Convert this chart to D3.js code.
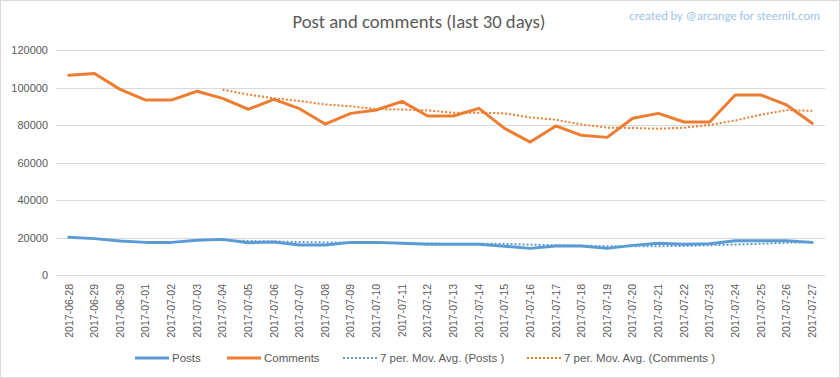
<!DOCTYPE html>
<html><head><meta charset="utf-8">
<script src="https://cdn.jsdelivr.net/npm/d3@7"></script>
<style>body{margin:0;background:#fff}svg{display:block}</style>
</head><body>
<script>
const dates = ["2017-06-28","2017-06-29","2017-06-30","2017-07-01","2017-07-02","2017-07-03","2017-07-04","2017-07-05","2017-07-06","2017-07-07","2017-07-08","2017-07-09","2017-07-10","2017-07-11","2017-07-12","2017-07-13","2017-07-14","2017-07-15","2017-07-16","2017-07-17","2017-07-18","2017-07-19","2017-07-20","2017-07-21","2017-07-22","2017-07-23","2017-07-24","2017-07-25","2017-07-26","2017-07-27"];
const posts = [20100,19400,18100,17400,17400,18500,19000,17200,17600,16000,16000,17400,17400,16900,16400,16400,16400,15300,14200,15500,15500,14200,15800,16900,16400,16700,18300,18300,18300,17400];
const comments = [106500,107500,99000,93300,93300,98000,94200,88400,93700,88700,80500,86200,88000,92600,84800,84800,88900,78200,70900,79500,74500,73400,83600,86200,81600,81600,96000,96000,90700,80900];
const postsMA = [null,null,null,null,null,null,18557,18143,17886,17586,17386,17386,17229,16929,16814,16643,16700,16600,16143,15871,15671,15357,15271,15343,15500,15857,16257,16657,17243,17471];
const commentsMA = [null,null,null,null,null,null,98830,96243,94271,92800,90971,89957,88529,88300,87786,86514,86543,86214,84029,82814,80229,78600,78429,78043,78529,80057,82414,85486,87957,87571];
const yTicks = [0,20000,40000,60000,80000,100000,120000];
const title = "Post and comments (last 30 days)";
const credit = "created by @arcange for steemit.com";
const legendItems = [
  {label:"Posts", color:"#5B9BD5", dash:null},
  {label:"Comments", color:"#ED7D31", dash:null},
  {label:"7 per. Mov. Avg. (Posts )", color:"#5B9BD5", dash:"2,2"},
  {label:"7 per. Mov. Avg. (Comments )", color:"#ED7D31", dash:"2,2"}
];

const W = 840, H = 378;
const svg = d3.select("body").append("svg").attr("width", W).attr("height", H);
svg.append("rect").attr("x",0.5).attr("y",0.5).attr("width",W-1).attr("height",H-1)
  .attr("fill","#fff").attr("stroke","#D9D9D9");

const x = d3.scaleBand().domain(dates).range([56, 825]);
const cx = d => x(d) + x.bandwidth()/2;
const y = d3.scaleLinear().domain([0,120000]).range([275, 50]);

const font = "Carlito, Lato, 'Liberation Sans', sans-serif";

// gridlines
svg.append("g").selectAll("line").data(yTicks).join("line")
  .attr("x1", 56).attr("x2", 825)
  .attr("y1", d => Math.round(y(d))+0.5).attr("y2", d => Math.round(y(d))+0.5)
  .attr("stroke", "#D9D9D9").attr("stroke-width", 1);

// y axis labels
const yAxis = d3.axisLeft(y).tickValues(yTicks).tickSize(0).tickPadding(8).tickFormat(d3.format("d"));
const gy = svg.append("g").attr("transform","translate(56,0)").call(yAxis);
gy.select(".domain").remove();
gy.selectAll("text").attr("fill","#595959").style("font-family","'Liberation Sans', Arial, sans-serif").style("font-size","11px");

// x axis labels
const xAxis = d3.axisBottom(x).tickSize(0).tickPadding(0);
const gx = svg.append("g").attr("transform","translate(0,275)").call(xAxis);
gx.select(".domain").remove();
gx.selectAll("text")
  .attr("transform","rotate(-90)")
  .attr("x", -9).attr("y", 0).attr("dy","0.35em")
  .style("text-anchor","end")
  .attr("fill","#595959").style("font-family","'Liberation Sans', Arial, sans-serif").style("font-size","10.5px");

const line = d3.line().defined(d => d.v != null).x(d => cx(d.k)).y(d => y(d.v));
const mk = arr => dates.map((k,i) => ({k, v: arr[i]}));

svg.append("path").datum(mk(postsMA)).attr("d", line).attr("fill","none")
  .attr("stroke","#5B9BD5").attr("stroke-width",2).attr("stroke-dasharray","2,2");
svg.append("path").datum(mk(commentsMA)).attr("d", line).attr("fill","none")
  .attr("stroke","#ED7D31").attr("stroke-width",2).attr("stroke-dasharray","2,2");
svg.append("path").datum(mk(posts)).attr("d", line).attr("fill","none")
  .attr("stroke","#5B9BD5").attr("stroke-width",3).attr("stroke-linejoin","round").attr("stroke-linecap","round");
svg.append("path").datum(mk(comments)).attr("d", line).attr("fill","none")
  .attr("stroke","#ED7D31").attr("stroke-width",3).attr("stroke-linejoin","round").attr("stroke-linecap","round");

// title
svg.append("text").attr("x", 419).attr("y", 28).attr("text-anchor","middle")
  .attr("fill","#595959").style("font-family",font).style("font-size","18.7px").text(title);
svg.append("text").attr("x", 820).attr("y", 20).attr("text-anchor","end")
  .attr("fill","#9DC3E6").style("font-family",font).style("font-size","12.5px").text(credit);

// legend
const legX = [135, 227, 343, 527];
const lg = svg.append("g");
legendItems.forEach((it, i) => {
  const g = lg.append("g").attr("transform", `translate(${legX[i]},358)`);
  g.append("line").attr("x1",0).attr("x2",34).attr("y1",0).attr("y2",0)
    .attr("stroke", it.color).attr("stroke-width", it.dash ? 2 : 3)
    .attr("stroke-dasharray", it.dash || null);
  g.append("text").attr("x", 37).attr("y", 0).attr("dy","0.35em")
    .attr("fill","#595959").style("font-family","'Liberation Sans', Arial, sans-serif").style("font-size","11.5px").text(it.label);
});
</script>
</body></html>
